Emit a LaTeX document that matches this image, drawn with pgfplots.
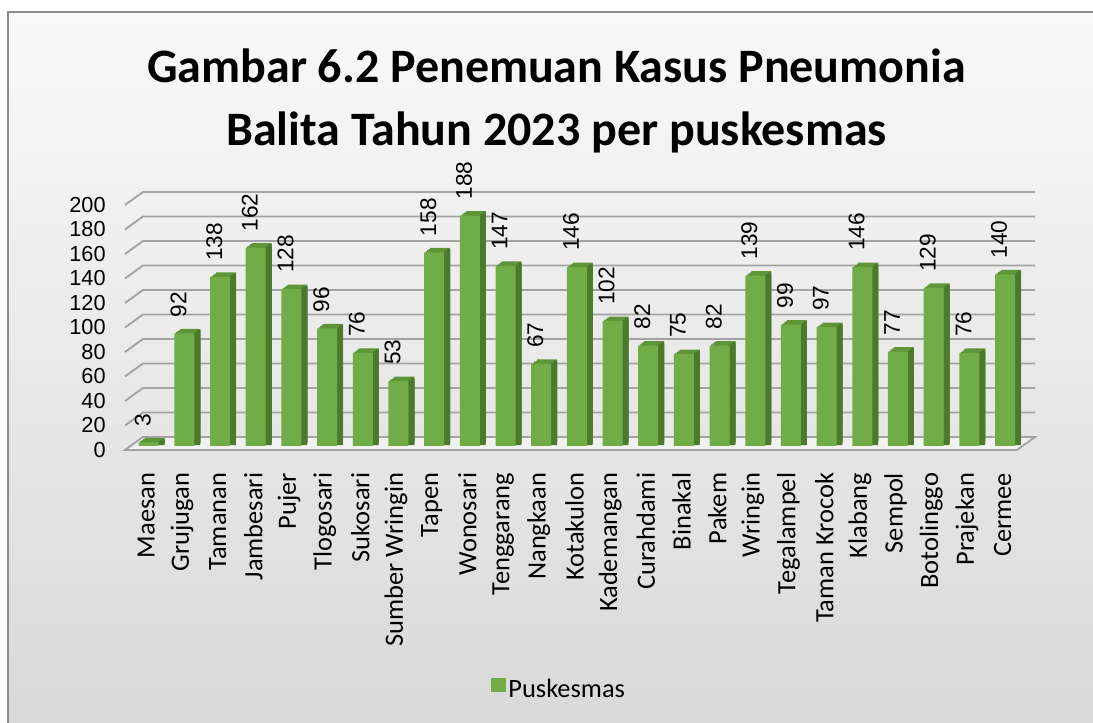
\documentclass[border=0pt]{standalone}
\usepackage{pgfplots}
\usepackage{pgfplotstable}
\pgfplotsset{compat=1.18}
\usepackage{fontspec}
\setmainfont{Carlito}
\newfontfamily\arial{Liberation Sans}
\definecolor{barfront}{HTML}{70AD47}
\definecolor{barside}{HTML}{4B7A2D}
\definecolor{bartop}{HTML}{5E9539}
\definecolor{gridc}{HTML}{A3A3A3}
\definecolor{floorc}{HTML}{F2F2F2}
\definecolor{bgtop}{HTML}{F9F9F9}
\definecolor{bgbot}{HTML}{D9D9D9}
\definecolor{borderc}{HTML}{8A8A8A}

\pgfplotstableread{
x y
0 3
1 92
2 138
3 162
4 128
5 96
6 76
7 53
8 158
9 188
10 147
11 67
12 146
13 102
14 82
15 75
16 82
17 139
18 99
19 97
20 146
21 77
22 129
23 76
24 140
}\data

\begin{document}
\begin{tikzpicture}
\useasboundingbox (0,0) rectangle (819.75pt,542.25pt);
\fill[white] (0,0) rectangle (819.75pt,542.25pt);
\shade[top color=bgtop, bottom color=bgbot, draw=borderc, line width=0.9pt]
  (6pt,-3pt) rectangle (823pt,533.25pt);
\node[anchor=base, font=\bfseries\fontsize{36}{40}\selectfont] at (417.4pt,480.5pt) {Gambar 6.2 Penemuan Kasus Pneumonia};
\node[anchor=base, font=\bfseries\fontsize{36}{40}\selectfont] at (417.4pt,433.3pt) {Balita Tahun 2023 per puskesmas};
\begin{axis}[
  at={(93.75pt,204.75pt)}, anchor=south west,
  scale only axis, width=669pt, height=183.75pt,
  xmin=-0.5, xmax=24.5, ymin=0, ymax=200,
  clip=false,
  axis line style={draw=none},
  major tick length=0pt,
  ytick={0,20,...,200},
  xtick={0,...,24},
  xticklabels={Maesan,Grujugan,Tamanan,Jambesari,Pujer,Tlogosari,Sukosari,Sumber Wringin,Tapen,Wonosari,Tenggarang,Nangkaan,Kotakulon,Kademangan,Curahdami,Binakal,Pakem,Wringin,Tegalampel,Taman Krocok,Klabang,Sempol,Botolinggo,Prajekan,Cermee},
  yticklabel style={font=\arial\fontsize{16.3}{16.3}\selectfont, xshift=-11pt},
  /pgf/number format/assume math mode=true,
  xticklabel style={font=\fontsize{19.8}{19.8}\selectfont, xshift=2.6pt, rotate=90, anchor=east, inner xsep=17pt},
  legend style={at={(0.487,-0.976)}, anchor=center, draw=none, fill=none, font=\fontsize{19.8}{19.8}\selectfont},
  legend image code/.code={\fill[barfront] (-2pt,-5.5pt) rectangle (9pt,5.5pt);},
]
% floor
\filldraw[fill=floorc, draw=gridc, line width=1.4pt]
  (axis cs:-0.5,0) -- (axis cs:24.5,0) -- ([shift={(13.5pt,9.75pt)}]axis cs:24.5,0)
  -- ([shift={(13.5pt,9.75pt)}]axis cs:-0.5,0) -- cycle;
% back wall grid lines
\pgfplotsinvokeforeach{20,40,...,200}{
  \draw[gridc, line width=1.4pt] (axis cs:-0.5,#1) -- ([shift={(13.5pt,9.75pt)}]axis cs:-0.5,#1)
    -- ([shift={(13.5pt,9.75pt)}]axis cs:24.5,#1);
}
\addplot[ybar, bar width=15pt, bar shift=8.9pt, yshift=6.4pt, fill=bartop, draw=none, forget plot] table {\data};
\addplot[ybar, bar width=15pt, bar shift=7.775pt, yshift=5.55pt, fill=bartop, draw=none, forget plot] table {\data};
\addplot[ybar, bar width=15pt, bar shift=6.65pt, yshift=4.7pt, fill=bartop, draw=none, forget plot] table {\data};
\addplot[ybar, bar width=15pt, bar shift=5.525pt, yshift=3.85pt, fill=bartop, draw=none, forget plot] table {\data};
% side faces: narrow bars along the right edge
\addplot[ybar, bar width=4.5pt, bar shift=14.0pt, yshift=3.6pt, fill=barside, draw=none, forget plot] table {\data};
\addplot[ybar, bar width=3.4pt, bar shift=14.6pt, yshift=4.6pt, fill=barside, draw=none, forget plot] table {\data};
\addplot[ybar, bar width=2.2pt, bar shift=15.2pt, yshift=5.5pt, fill=barside, draw=none, forget plot] table {\data};
\addplot[ybar, bar width=15pt, bar shift=4.4pt, yshift=3pt, fill=barfront, draw=none,
  nodes near coords,
  every node near coord/.append style={font=\arial\fontsize{17}{17}\selectfont, rotate=90, anchor=west, inner xsep=12pt, black}]
  table {\data};
\addlegendentry{Puskesmas}
\end{axis}
\end{tikzpicture}
\end{document}
